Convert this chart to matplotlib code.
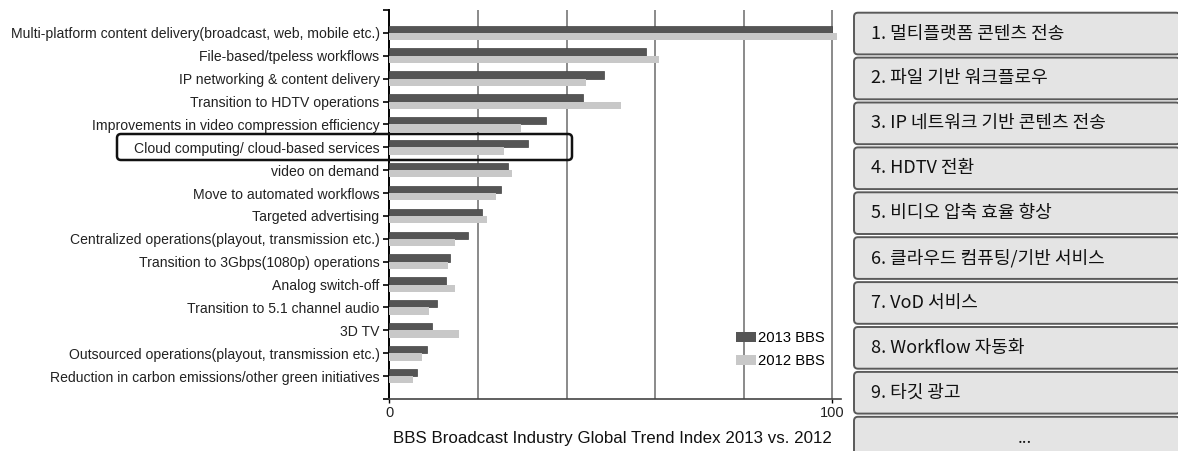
import matplotlib
matplotlib.use("Agg")
import matplotlib.pyplot as plt
from matplotlib.patches import FancyBboxPatch, Patch
import numpy as np

categories = [
    "Multi-platform content delivery(broadcast, web, mobile etc.)",
    "File-based/tpeless workflows",
    "IP networking & content delivery",
    "Transition to HDTV operations",
    "Improvements in video compression efficiency",
    "Cloud computing/ cloud-based services",
    "video on demand",
    "Move to automated workflows",
    "Targeted advertising",
    "Centralized operations(playout, transmission etc.)",
    "Transition to 3Gbps(1080p) operations",
    "Analog switch-off",
    "Transition to 5.1 channel audio",
    "3D TV",
    "Outsourced operations(playout, transmission etc.)",
    "Reduction in carbon emissions/other green initiatives",
]
values_2013 = [100.0, 57.9, 48.5, 43.7, 35.4, 31.2, 26.9, 25.1, 20.9, 17.8, 13.6, 12.8, 10.7, 9.6, 8.4, 6.2]
values_2012 = [101.0, 60.8, 44.3, 52.4, 29.7, 25.8, 27.7, 24.0, 22.1, 14.8, 13.3, 14.9, 9.0, 15.8, 7.3, 5.4]
series_labels = ["2013 BBS", "2012 BBS"]
xlabel = "BBS Broadcast Industry Global Trend Index 2013 vs. 2012"
xtick_values = [0, 100]
grid_values = [20, 40, 60, 80, 100]
highlight_index = 5
panel_items = [
    "1. 멀티플랫폼 콘텐츠 전송",
    "2. 파일 기반 워크플로우",
    "3. IP 네트워크 기반 콘텐츠 전송",
    "4. HDTV 전환",
    "5. 비디오 압축 효율 향상",
    "6. 클라우드 컴퓨팅/기반 서비스",
    "7. VoD 서비스",
    "8. Workflow 자동화",
    "9. 타깃 광고",
    "...",
]

W, H = 1178, 451
DARK = "#555555"
LIGHT = "#c8c8c8"
LAT = "Liberation Sans"
KR = ["Noto Sans CJK KR", "DejaVu Sans"]

fig = plt.figure(figsize=(W / 100, H / 100), dpi=100)
fig.patch.set_facecolor("white")

ax_left, ax_right_px, ax_top, ax_bot = 389.3, 841.2, 10, 399
ax = fig.add_axes([ax_left / W, (H - ax_bot) / H, (ax_right_px - ax_left) / W, (ax_bot - ax_top) / H])

y = np.arange(len(categories))
bh = 0.32
ax.barh(y - bh / 2, values_2013, height=bh, color=DARK, edgecolor="#444444", linewidth=0.5, zorder=3, label=series_labels[0])
ax.barh(y + bh / 2, values_2012, height=bh, color=LIGHT, linewidth=0, zorder=3, label=series_labels[1])

ax.set_xlim(0, 102)
ax.set_ylim(len(categories), -1)
for g in grid_values:
    ax.axvline(g, color="#8a8a8a", lw=1.4, zorder=1)

ax.set_yticks(y)
ax.set_yticklabels(categories, fontsize=10.1, family=LAT, color="#222222")
ax.set_yticks([-1, len(categories)], minor=True)
ax.tick_params(axis="y", which="both", direction="out", length=4, width=1.2, pad=3)
ax.set_xticks(xtick_values)
ax.set_xticklabels([str(v) for v in xtick_values], fontsize=10.5, family=LAT, color="#222222")
ax.tick_params(axis="x", direction="out", length=3, width=1, pad=2)

for s in ["top", "right"]:
    ax.spines[s].set_visible(False)
ax.spines["left"].set_linewidth(1.4)
ax.spines["bottom"].set_linewidth(1.2)
ax.spines["bottom"].set_color("#444444")

fig.text(612 / W, 1 - 438 / H, xlabel, ha="center", va="center", fontsize=12.2, family=LAT, color="#111111")

handles = [Patch(facecolor=DARK, edgecolor="none"), Patch(facecolor=LIGHT, edgecolor="none")]
fig.legend(handles, series_labels, loc="upper left", bbox_to_anchor=(729 / W, 1 - 324 / H),
           frameon=False, prop={"family": LAT, "size": 10.6}, handlelength=1.35, handleheight=0.6,
           labelspacing=0.6, handletextpad=0.15, borderpad=0)

# highlight box around the cloud computing row
hb = FancyBboxPatch((117, H - 160), 572 - 117, 26, boxstyle="round,pad=0,rounding_size=4",
                    transform=None, fill=False, edgecolor="#111111", linewidth=1.8, zorder=10)
fig.patches.append(hb)

# right panel list boxes
x0, x1 = 854, 1180
top0, pitch, bh_px = 12.7, 44.9, 41.7
for i, item in enumerate(panel_items):
    t = top0 + i * pitch
    b = t + bh_px
    p = FancyBboxPatch((x0, H - b), x1 - x0, bh_px, boxstyle="round,pad=0,rounding_size=4",
                       transform=None, facecolor="#e4e4e4", edgecolor="#5a5a5a", linewidth=1.4, zorder=2)
    fig.patches.append(p)
    cy = (t + b) / 2
    if item == "...":
        fig.text(1025 / W, 1 - (cy + 1) / H, item, ha="center", va="center", fontsize=12, family=KR, color="#111111")
    else:
        fig.text(871 / W, 1 - cy / H, item, ha="left", va="center", fontsize=13, family=KR, color="#111111")

fig.savefig("out.png", dpi=100, facecolor="white")
